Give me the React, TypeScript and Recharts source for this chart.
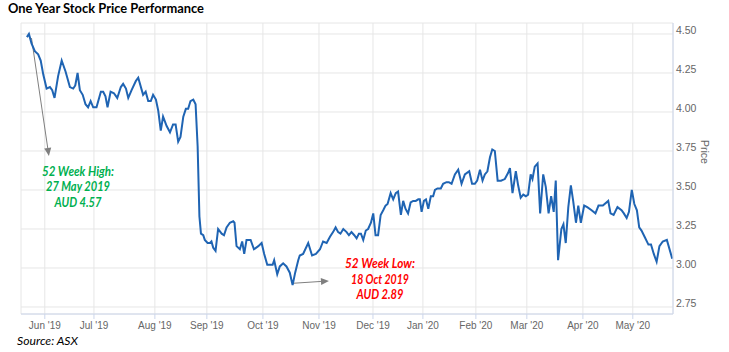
import { CartesianGrid, Line, LineChart, ReferenceLine, XAxis, YAxis } from "recharts";

// trading-day position (0 = 27 May 2019) and closing price
const days = [
  0, 0.8, 1.8, 3.1, 4.4, 5.4, 6.4, 7.7, 9.0, 9.9, 10.8, 12.2, 13.6, 15.1, 16.8, 18.1, 18.9, 19.8, 20.7, 21.8,
  22.9, 23.9, 24.9, 25.9, 27.2, 28.9, 29.8, 30.7, 31.5, 32.7, 34.0, 35.3, 36.7, 37.6, 38.7, 39.6, 40.9, 42.6, 43.5, 45.4,
  46.4, 47.4, 48.4, 49.3, 50.4, 51.3, 52.3, 53.2, 54.6, 55.9, 57.1, 58.1, 59.1, 60.0, 61.1, 62.1, 63.0, 63.9, 65.0, 65.9,
  66.7, 67.4, 68.0, 68.9, 69.5, 70.6, 71.5, 72.1, 72.8, 73.7, 74.7, 76.1, 77.0, 78.0, 79.3, 80.6, 81.1, 81.9, 83.2, 84.1,
  84.9, 85.8, 87.4, 88.7, 90.4, 91.7, 92.7, 93.9, 94.9, 96.0, 96.6, 97.8, 98.8, 100.1, 101.4, 102.7, 103.8, 104.8, 106.0, 106.6,
  107.9, 109.9, 111.4, 112.9, 114.5, 115.7, 117.1, 118.4, 119.6, 120.6, 121.6, 122.5, 123.6, 124.9, 125.8, 126.8, 127.9, 128.8, 129.7, 130.5,
  131.4, 132.4, 133.3, 134.4, 135.3, 136.2, 137.2, 138.2, 139.2, 140.1, 140.9, 142.1, 143.1, 144.1, 145.0, 146.1, 147.0, 147.9, 148.9, 149.9,
  150.9, 151.9, 152.9, 153.5, 154.2, 155.1, 155.9, 156.8, 157.8, 158.7, 159.4, 160.4, 161.7, 162.6, 163.9, 164.8, 165.9, 167.2, 168.5, 169.8,
  171.1, 172.8, 173.9, 175.0, 175.9, 177.0, 178.0, 178.9, 179.9, 180.9, 181.8, 182.8, 183.9, 185.2, 186.7, 188.0, 188.7, 189.7, 191.0, 191.9,
  192.9, 193.9, 194.9, 195.8, 196.8, 197.5, 198.4, 199.5, 200.5, 201.7, 202.7, 203.8, 204.8, 205.8, 206.6, 207.5, 208.8, 209.6, 210.5, 211.5,
  212.5, 213.4, 214.5, 215.4, 216.4, 217.7, 218.9, 220.6, 222.1, 223.3, 225.0, 227.1, 228.0, 229.2, 230.7, 232.3, 233.2, 234.3, 235.2, 236.3,
  237.3, 238.3, 239.2, 240.1, 241.3, 242.8, 243.8, 244.9, 246.0, 247.1, 248.4, 250.0, 252.1
];
const prices = [
  4.48, 4.5, 4.44, 4.39, 4.37, 4.33, 4.24, 4.15, 4.16, 4.14, 4.09, 4.23, 4.33, 4.26, 4.16, 4.15, 4.17, 4.25, 4.14, 4.11,
  4.05, 4.03, 4.07, 4.03, 4.03, 4.13, 4.13, 4.1, 4.03, 4.13, 4.12, 4.09, 4.16, 4.18, 4.15, 4.09, 4.14, 4.2, 4.22, 4.11,
  4.13, 4.07, 4.07, 4.11, 4.08, 4.01, 3.88, 3.97, 3.91, 3.87, 3.92, 3.92, 3.81, 3.84, 3.97, 4.02, 4.02, 4.07, 4.08, 4.05,
  3.78, 3.33, 3.22, 3.21, 3.18, 3.16, 3.16, 3.17, 3.13, 3.11, 3.25, 3.22, 3.21, 3.26, 3.29, 3.3, 3.29, 3.14, 3.12, 3.17,
  3.09, 3.18, 3.18, 3.12, 3.14, 3.16, 3.09, 3.02, 3.02, 3.02, 3.05, 2.96, 3.01, 3.03, 3.01, 2.97, 2.89, 2.97, 3.05, 3.08,
  3.09, 3.16, 3.08, 3.09, 3.12, 3.17, 3.16, 3.2, 3.23, 3.26, 3.23, 3.22, 3.25, 3.23, 3.21, 3.23, 3.21, 3.19, 3.22, 3.22,
  3.18, 3.24, 3.25, 3.29, 3.35, 3.21, 3.21, 3.34, 3.37, 3.4, 3.41, 3.48, 3.44, 3.48, 3.49, 3.34, 3.43, 3.38, 3.35, 3.42,
  3.43, 3.43, 3.44, 3.44, 3.36, 3.43, 3.44, 3.38, 3.46, 3.46, 3.5, 3.51, 3.51, 3.54, 3.55, 3.55, 3.54, 3.6, 3.63, 3.54,
  3.6, 3.62, 3.54, 3.54, 3.56, 3.63, 3.56, 3.6, 3.62, 3.71, 3.76, 3.75, 3.56, 3.56, 3.57, 3.61, 3.64, 3.48, 3.62, 3.53,
  3.45, 3.47, 3.46, 3.47, 3.6, 3.57, 3.65, 3.67, 3.35, 3.6, 3.52, 3.35, 3.46, 3.36, 3.56, 3.05, 3.25, 3.28, 3.16, 3.39,
  3.53, 3.43, 3.29, 3.4, 3.29, 3.4, 3.39, 3.37, 3.35, 3.4, 3.4, 3.43, 3.35, 3.34, 3.39, 3.37, 3.35, 3.32, 3.36, 3.5,
  3.41, 3.37, 3.26, 3.24, 3.2, 3.15, 3.15, 3.09, 3.04, 3.14, 3.17, 3.18, 3.06
];

const monthTicks = [7.0, 26.2, 50.0, 70.3, 92.2, 114.1, 135.2, 154.7, 175.4, 195.3, 217.2, 236.7];
const monthLabels = ["Jun '19", "Jul '19", "Aug '19", "Sep '19", "Oct '19", "Nov '19", "Dec '19", "Jan '20", "Feb '20", "Mar '20", "Apr '20", "May '20"];
const priceTicks = [2.75, 3.0, 3.25, 3.5, 3.75, 4.0, 4.25, 4.5];

// annotation arrows: [start, end] as [day, price]
const highArrow = [[1.8, 4.474], [8.6, 3.718]];
const lowArrow = [[104.0, 2.902], [118.0, 2.917]];

const data = days.map((day, i) => ({ day, price: prices[i] }));

const font = "'Liberation Sans', Arial, sans-serif";
const labelFont = "Lato, 'Open Sans', sans-serif";

function Arrow(props: any) {
  const { x1, y1, x2, y2 } = props;
  const a = Math.atan2(y2 - y1, x2 - x1);
  const len = 8;
  const w = 3.5;
  const bx = x2 - len * Math.cos(a);
  const by = y2 - len * Math.sin(a);
  const px = -Math.sin(a) * w;
  const py = Math.cos(a) * w;
  return (
    <g>
      <line x1={x1} y1={y1} x2={bx} y2={by} stroke="#7f7f7f" strokeWidth={1} />
      <polygon points={`${x2},${y2} ${bx + px},${by + py} ${bx - px},${by - py}`} fill="#7f7f7f" />
    </g>
  );
}

function PriceTick({ x, y, payload }: any) {
  return (
    <text x={x} y={y - 4} fill="#666666" fontSize={10.5} fontFamily={font} dominantBaseline="central">
      {Number(payload.value).toFixed(2)}
    </text>
  );
}

export default function App() {
  return (
    <div style={{ position: "absolute", left: 0, top: 0, width: 729, height: 352, background: "#fff" }}>
      <LineChart width={729} height={352} data={data} margin={{ top: 23, right: 0, left: 21, bottom: 14 }}>
        <CartesianGrid stroke="#e6e6e6" />
        <XAxis
          dataKey="day"
          type="number"
          domain={[-2.3, 252.4]}
          allowDataOverflow
          ticks={monthTicks}
          interval={0}
          tickFormatter={(v) => monthLabels[monthTicks.indexOf(v)]}
          height={24}
          stroke="#ccd6eb"
          tickSize={5}
          tickMargin={3}
          tick={{ fill: "#666666", fontSize: 10, fontFamily: font }}
        />
        <YAxis
          orientation="right"
          type="number"
          domain={[2.705, 4.5705]}
          allowDataOverflow
          ticks={priceTicks}
          interval={0}
          width={56}
          stroke="#ccd6eb"
          tickLine={false}
          tickSize={0}
          tickMargin={3}
          tick={<PriceTick />}
        />
        <ReferenceLine segment={highArrow.map(([x, y]) => ({ x, y }))} shape={Arrow} ifOverflow="visible" />
        <ReferenceLine segment={lowArrow.map(([x, y]) => ({ x, y }))} shape={Arrow} ifOverflow="visible" />
        <Line
          dataKey="price"
          type="linear"
          stroke="#1f64b3"
          strokeWidth={2}
          dot={false}
          activeDot={false}
          isAnimationActive={false}
        />
      </LineChart>
      <svg width={729} height={352} style={{ position: "absolute", left: 0, top: 0, pointerEvents: "none" }}>
        <text x={8} y={12.5} fontFamily={labelFont} fontWeight="bold" fontSize={12.5} fill="#000" textLength={196} lengthAdjust="spacingAndGlyphs">
          One Year Stock Price Performance
        </text>
        <text x={17} y={345} fontFamily={labelFont} fontStyle="italic" fontSize={12} fill="#000" textLength={61} lengthAdjust="spacingAndGlyphs">
          Source: ASX
        </text>
        <text x={705} y={152} fill="#666666" fontSize={10.5} fontFamily={font} textAnchor="middle" dominantBaseline="central" transform="rotate(90 705 152)">
          Price
        </text>
        <g fill="#00b050" fontFamily={labelFont} fontWeight="bold" fontStyle="italic" fontSize={13} textAnchor="middle" dominantBaseline="central">
          <text x={78} y={171} textLength={72} lengthAdjust="spacingAndGlyphs">52 Week High:</text>
          <text x={78} y={186} textLength={64} lengthAdjust="spacingAndGlyphs">27 May 2019</text>
          <text x={78} y={201.5} textLength={47} lengthAdjust="spacingAndGlyphs">AUD 4.57</text>
        </g>
        <g fill="#ff0000" fontFamily={labelFont} fontWeight="bold" fontStyle="italic" fontSize={13} textAnchor="middle" dominantBaseline="central">
          <text x={380} y={263} textLength={70} lengthAdjust="spacingAndGlyphs">52 Week Low:</text>
          <text x={380} y={278.5} textLength={58} lengthAdjust="spacingAndGlyphs">18 Oct 2019</text>
          <text x={380} y={294} textLength={47} lengthAdjust="spacingAndGlyphs">AUD 2.89</text>
        </g>
      </svg>
    </div>
  );
}
